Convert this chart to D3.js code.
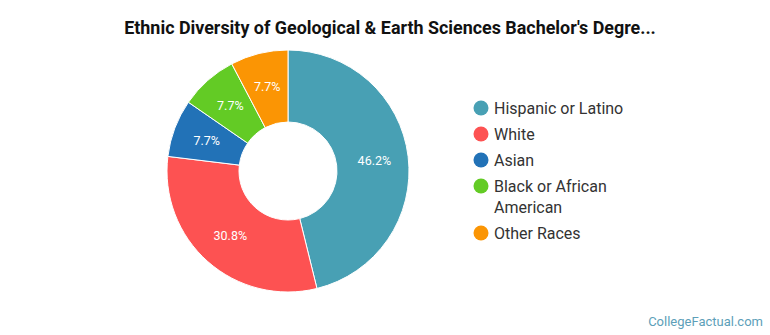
<!DOCTYPE html>
<html lang="en">
<head>
    <meta charset="UTF-8">
    <script src="https://cdn.jsdelivr.net/npm/d3@7"></script>
    <style>
        body { margin: 0; background: #fff; font-family: Roboto, "Noto Sans", sans-serif; }
    </style>
</head>
<body>
<div id="fig"></div>
<script>
    const width = 770, height = 335;

    const categories = ["Hispanic or Latino", "White", "Asian", "Black or African American", "Other Races"];
    const counts = [6, 4, 1, 1, 1];
    const colors = ["#48a0b4", "#fd5252", "#2272b7", "#63cb25", "#fb9504"];
    const legendLines = [["Hispanic or Latino"], ["White"], ["Asian"], ["Black or African", "American"], ["Other Races"]];

    const data = categories.map((c, i) => ({name: c, value: counts[i], color: colors[i], lines: legendLines[i]}));
    const total = d3.sum(counts);

    const svg = d3.select("#fig").append("svg")
        .attr("width", width)
        .attr("height", height);

    svg.append("text")
        .attr("x", 390)
        .attr("y", 34)
        .attr("text-anchor", "middle")
        .attr("font-size", 17.9)
        .attr("font-weight", "bold")
        .attr("fill", "#111")
        .text("Ethnic Diversity of Geological & Earth Sciences Bachelor's Degre...");

    const cx = 288, cy = 171, outerR = 121, innerR = 49;

    const pie = d3.pie().value(d => d.value).sort(null);
    const arc = d3.arc().innerRadius(innerR).outerRadius(outerR);
    const labelArc = d3.arc().innerRadius((innerR + outerR) / 2 + 2).outerRadius((innerR + outerR) / 2 + 2);

    const g = svg.append("g").attr("transform", `translate(${cx},${cy})`);

    g.selectAll("path")
        .data(pie(data))
        .join("path")
        .attr("d", arc)
        .attr("fill", d => d.data.color)
        .attr("stroke", "#fff")
        .attr("stroke-width", 1);

    g.selectAll("text")
        .data(pie(data))
        .join("text")
        .attr("transform", d => `translate(${labelArc.centroid(d)})`)
        .attr("text-anchor", "middle")
        .attr("dy", "0.35em")
        .attr("font-size", 12.5)
        .attr("fill", "#fff")
        .text(d => d3.format(".1f")(d.data.value / total * 100) + "%");

    // legend
    const rowY = [108, 134, 160, 186, 233];
    const legend = svg.append("g");
    data.forEach((d, i) => {
        legend.append("circle")
            .attr("cx", 481)
            .attr("cy", rowY[i])
            .attr("r", 7.5)
            .attr("fill", d.color);
        d.lines.forEach((line, j) => {
            legend.append("text")
                .attr("x", 494)
                .attr("y", rowY[i] + j * 21)
                .attr("dy", "0.35em")
                .attr("font-size", 16)
                .attr("fill", "#333")
                .text(line);
        });
    });

    svg.append("text")
        .attr("x", 763)
        .attr("y", 326)
        .attr("text-anchor", "end")
        .attr("font-size", 13)
        .attr("fill", "#5d9fb9")
        .text("CollegeFactual.com");
</script>
</body>
</html>
